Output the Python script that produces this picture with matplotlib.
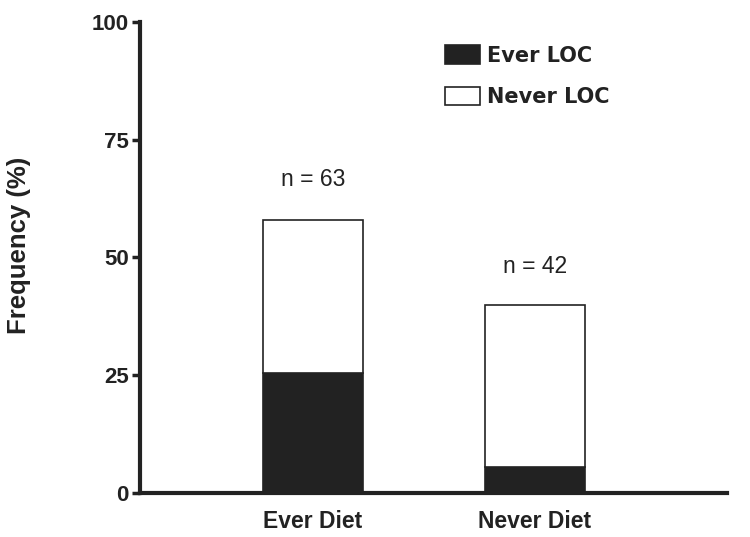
import numpy as np
import matplotlib.pyplot as plt

groups = ["Ever Diet", "Never Diet"]
ever_loc = [25.5, 5.5]
total = [58, 40]
never_loc = [t - e for t, e in zip(total, ever_loc)]
n_labels = ["n = 63", "n = 42"]
n_label_y = [66.5, 48]

plt.rcParams['font.family'] = ['Liberation Sans', 'DejaVu Sans']

fig = plt.figure(figsize=(7.5, 5.37), dpi=100)
ax = fig.add_axes([0.1867, 0.082, 0.7826, 0.877])

x = np.arange(len(groups))
w = 0.45
ax.bar(x, ever_loc, w, color='#222222', edgecolor='#222222', linewidth=1.2, label='Ever LOC')
ax.bar(x, never_loc, w, bottom=ever_loc, color='white', edgecolor='#222222', linewidth=1.2, label='Never LOC')

for xi, lab, yy in zip(x, n_labels, n_label_y):
    ax.text(xi, yy, lab, ha='center', va='center', fontsize=16.5, color='#222222')

ax.set_xlim(-0.78, 1.865)
ax.set_ylim(0, 100)
ax.set_yticks([0, 25, 50, 75, 100])
ax.set_xticks(x)
ax.set_xticklabels(groups, fontsize=16.5, fontweight='bold', color='#222222')
ax.tick_params(axis='x', length=0, pad=12)
ax.tick_params(axis='y', length=6, width=2.5, labelsize=16, pad=2, colors='#222222')
for t in ax.get_yticklabels():
    t.set_fontweight('bold')

for s in ['top', 'right']:
    ax.spines[s].set_visible(False)
for s in ['left', 'bottom']:
    ax.spines[s].set_linewidth(3)
    ax.spines[s].set_color('#222222')

ax.set_ylabel("Frequency (%)", fontsize=18.5, fontweight='bold', color='#222222')
ax.yaxis.set_label_coords(-0.186, 0.526)

leg = ax.legend(loc='upper left', bbox_to_anchor=(0.487, 0.99), frameon=False,
                prop={'family': 'DejaVu Sans', 'weight': 'bold', 'size': 15},
                handlelength=1.7, handleheight=1.0, handletextpad=0.35, labelspacing=1.0)
for t in leg.get_texts():
    t.set_color('#222222')

fig.savefig("out.png", dpi=100)
